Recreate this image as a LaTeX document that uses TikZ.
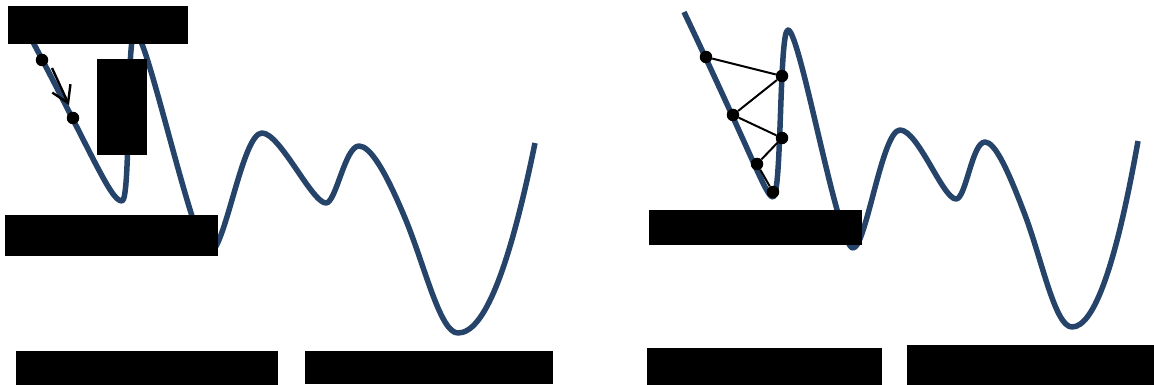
\documentclass[tikz,border=0pt]{standalone}
\usetikzlibrary{arrows.meta}
\definecolor{curvecol}{RGB}{38,68,106}
\tikzset{
  redact/.style={fill=black, draw=none, inner sep=0pt, outer sep=0pt, anchor=north west},
  landscape/.style={draw=curvecol, line width=5.5pt, line cap=butt, line join=round},
  ball/.style={circle, fill=black, inner sep=0pt, minimum size=12.5pt},
  link/.style={draw=black, line width=2pt},
  move/.style={draw=black, line width=2.4pt, -{Straight Barb[length=16pt,width=20pt,line width=2.4pt]}}
}
\begin{document}
\begin{tikzpicture}[x=1pt,y=-1pt]
\useasboundingbox (0,0) rectangle (1154,385);
% left landscape
\draw[landscape] (17,12) .. controls (92,152) and (110,201) .. (122,201)
  .. controls (131,201) and (126,32) .. (135,32)
  .. controls (147,32) and (194,253) .. (209,253)
  .. controls (225,253) and (242,133) .. (262,133)
  .. controls (280,133) and (312,203) .. (326,203)
  .. controls (336,203) and (345,146) .. (359,146)
  .. controls (370,146) and (385,170) .. (405,218)
  .. controls (425,266) and (440,333) .. (458,333)
  .. controls (484,333) and (509,270) .. (535,143);
% right landscape
\draw[landscape] (684,12) .. controls (754,159) and (766,197) .. (773,197)
  .. controls (782,197) and (779,30) .. (788,30)
  .. controls (800,30) and (838,248) .. (853,248)
  .. controls (866,248) and (882,130) .. (900,130)
  .. controls (918,130) and (943,199) .. (956,199)
  .. controls (966,199) and (972,142) .. (985,142)
  .. controls (995,142) and (1008,170) .. (1025,215)
  .. controls (1042,260) and (1055,327) .. (1072,327)
  .. controls (1094,327) and (1116,265) .. (1138,141);
% label boxes
\node[redact, minimum width=180pt, minimum height=38pt] (b1) at (8,6) {};
\node[redact, minimum width=50pt, minimum height=96pt] (b2) at (97,59) {};
\node[redact, minimum width=213pt, minimum height=41pt] (b3) at (5,215) {};
\node[redact, minimum width=262pt, minimum height=34pt] (b4) at (16,351) {};
\node[redact, minimum width=248pt, minimum height=33pt] (b5) at (305,351) {};
\node[redact, minimum width=213pt, minimum height=35pt] (b6) at (649,210) {};
\node[redact, minimum width=235pt, minimum height=37pt] (b7) at (647,348) {};
\node[redact, minimum width=247pt, minimum height=40pt] (b8) at (907,345) {};
% left balls and arrow
\node[ball] (p1) at (42,60) {};
\node[ball] (p2) at (73,118) {};
\coordinate (a1) at (52,68);
\coordinate (a2) at (69,105);
\draw[move] (a1) -- (a2);
% right balls and path
\node[ball] (q1) at (706,57) {};
\node[ball] (q2) at (782,76) {};
\node[ball] (q3) at (733,115) {};
\node[ball] (q4) at (782,138) {};
\node[ball] (q5) at (757,164) {};
\node[ball] (q6) at (773,192) {};
\draw[link] (q1) -- (q2) -- (q3) -- (q4) -- (q5) -- (q6);
\end{tikzpicture}
\end{document}
